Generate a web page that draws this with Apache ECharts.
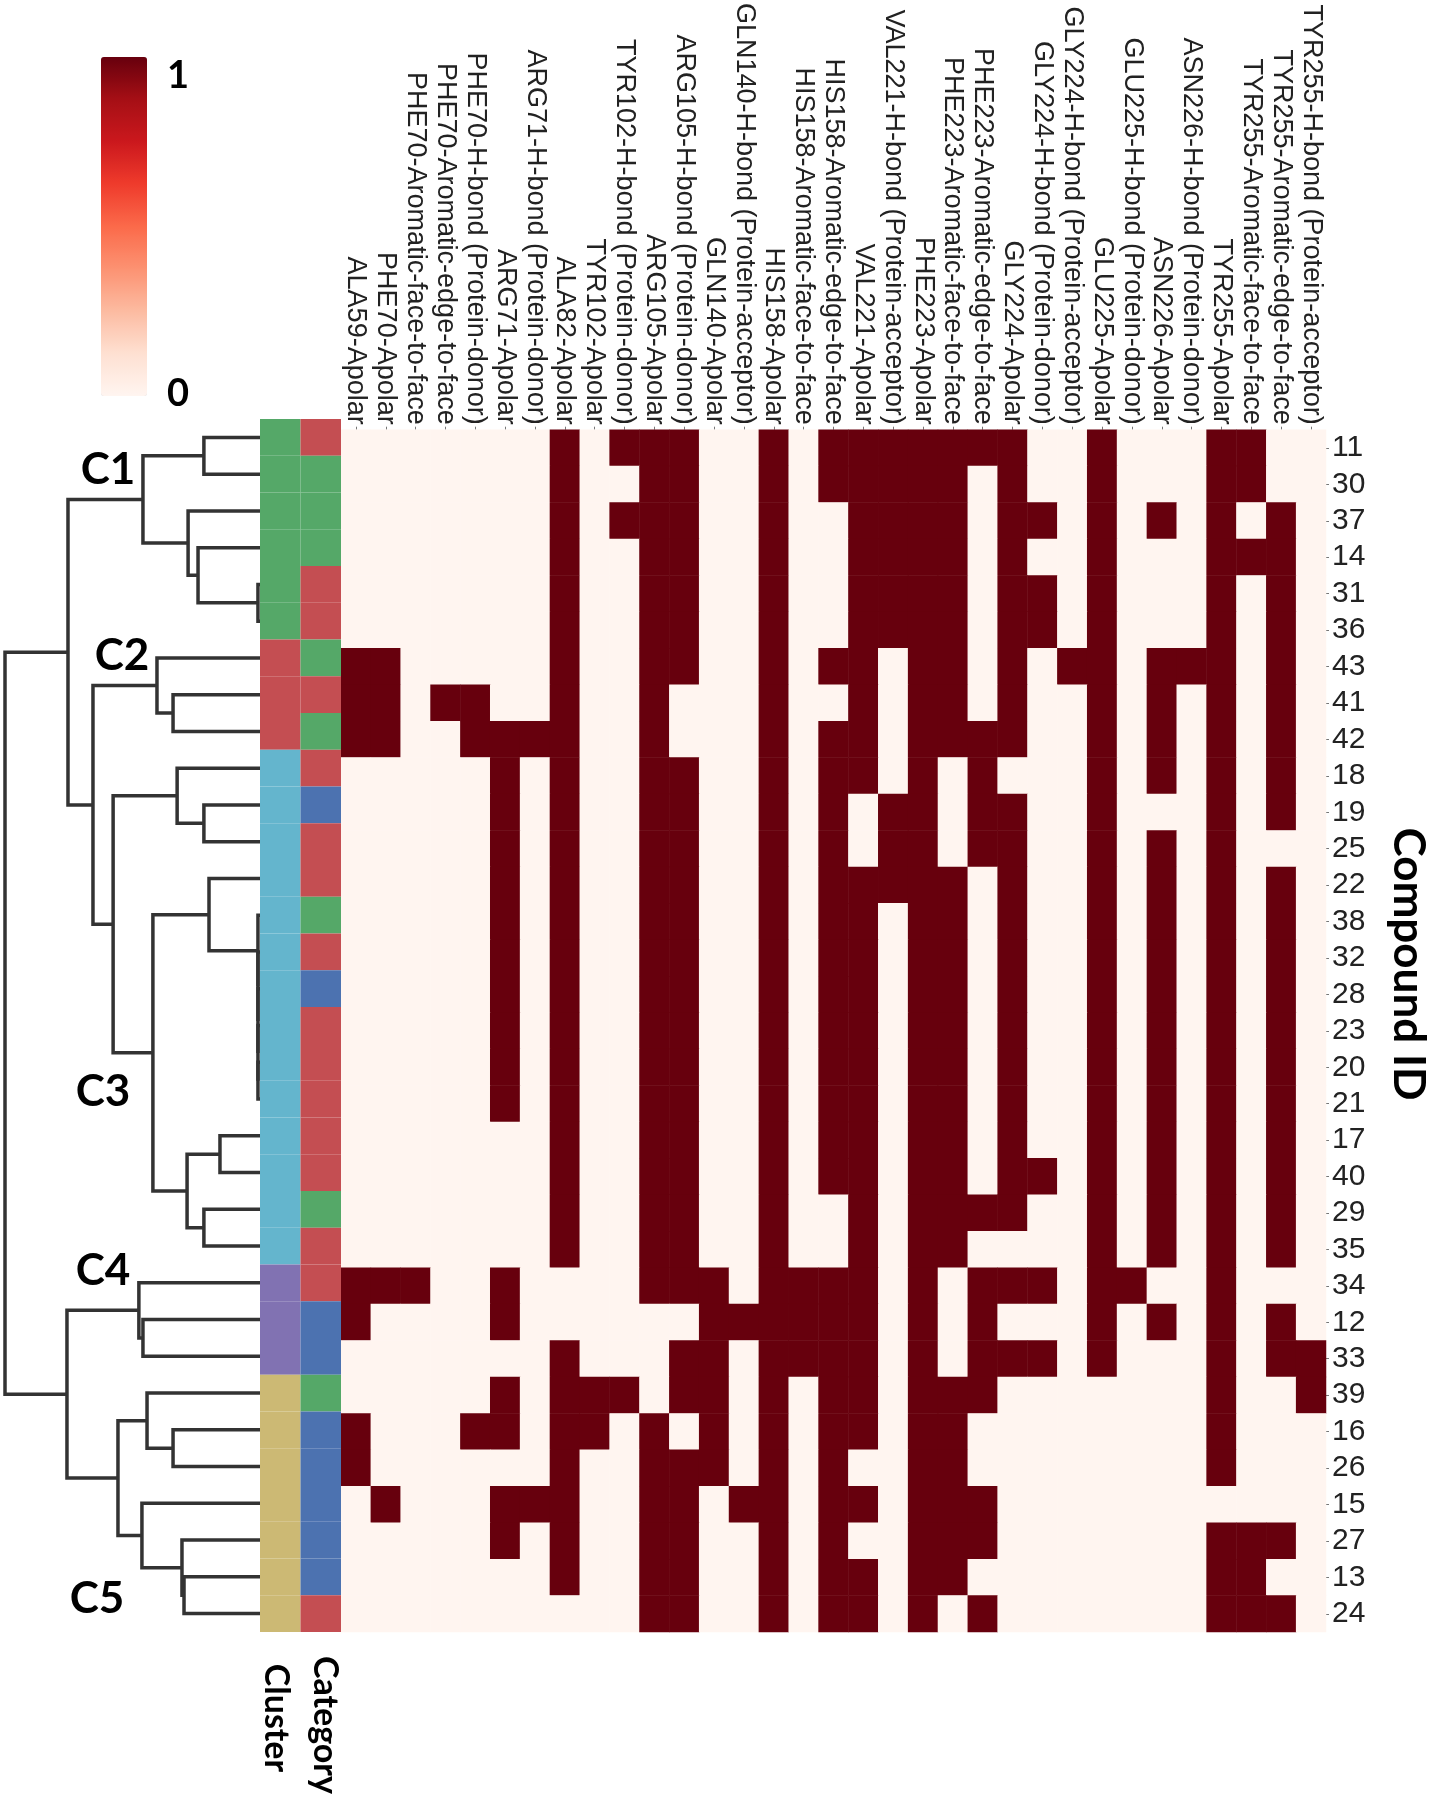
<!DOCTYPE html>
<html><head><meta charset="utf-8">
<script src="https://cdn.jsdelivr.net/npm/echarts@6/dist/echarts.min.js"></script>
<style>html,body{margin:0;padding:0;background:#fff}#c{width:1435px;height:1800px}</style>
</head><body><div id="c"></div>
<script>
// ---------- data ----------
const compoundIds = ['11','30','37','14','31','36','43','41','42','18','19','25','22','38','32','28','23','20','21','17','40','29','35','34','12','33','39','16','26','15','27','13','24'];

const interactions = ['ALA59-Apolar','PHE70-Apolar','PHE70-Aromatic-face-to-face','PHE70-Aromatic-edge-to-face','PHE70-H-bond (Protein-donor)','ARG71-Apolar','ARG71-H-bond (Protein-donor)','ALA82-Apolar','TYR102-Apolar','TYR102-H-bond (Protein-donor)','ARG105-Apolar','ARG105-H-bond (Protein-donor)','GLN140-Apolar','GLN140-H-bond (Protein-acceptor)','HIS158-Apolar','HIS158-Aromatic-face-to-face','HIS158-Aromatic-edge-to-face','VAL221-Apolar','VAL221-H-bond (Protein-acceptor)','PHE223-Apolar','PHE223-Aromatic-face-to-face','PHE223-Aromatic-edge-to-face','GLY224-Apolar','GLY224-H-bond (Protein-donor)','GLY224-H-bond (Protein-acceptor)','GLU225-Apolar','GLU225-H-bond (Protein-donor)','ASN226-Apolar','ASN226-H-bond (Protein-donor)','TYR255-Apolar','TYR255-Aromatic-face-to-face','TYR255-Aromatic-edge-to-face','TYR255-H-bond (Protein-acceptor)'];

// one string per compound (row order above), one character per interaction (1 = present)
const fingerprint = [
  '00000001011'+'10010111111'+'10010001100', // 11
  '00000001001'+'10010111110'+'10010001100', // 30
  '00000001011'+'10010011110'+'11010101010', // 37
  '00000001001'+'10010011110'+'10010001110', // 14
  '00000001001'+'10010011110'+'11010001010', // 31
  '00000001001'+'10010011110'+'11010001010', // 36
  '11000001001'+'10010110110'+'10110111010', // 43
  '11011001001'+'00010010110'+'10010101010', // 41
  '11001111001'+'00010110111'+'10010101010', // 42
  '00000101001'+'10010110101'+'00010101010', // 18
  '00000101001'+'10010101101'+'10010001010', // 19
  '00000101001'+'10010101101'+'10010101000', // 25
  '00000101001'+'10010111110'+'10010101010', // 22
  '00000101001'+'10010110110'+'10010101010', // 38
  '00000101001'+'10010110110'+'10010101010', // 32
  '00000101001'+'10010110110'+'10010101010', // 28
  '00000101001'+'10010110110'+'10010101010', // 23
  '00000101001'+'10010110110'+'10010101010', // 20
  '00000101001'+'10010110110'+'10010101010', // 21
  '00000001001'+'10010110110'+'10010101010', // 17
  '00000001001'+'10010110110'+'11010101010', // 40
  '00000001001'+'10010010111'+'10010101010', // 29
  '00000001001'+'10010010110'+'00010101010', // 35
  '11100100001'+'11011110101'+'11011001000', // 34
  '10000100000'+'01111110101'+'00010101010', // 12
  '00000001000'+'11011110101'+'11010001011', // 33
  '00000101110'+'11010110111'+'00000001001', // 39
  '10001101101'+'01010110110'+'00000001000', // 16
  '10000001001'+'11010100110'+'00000001000', // 26
  '01000111001'+'10110110111'+'00000000000', // 15
  '00000101001'+'10010100111'+'00000001110', // 27
  '00000001001'+'10010110110'+'00000001100', // 13
  '00000000001'+'10010110101'+'00000001110'  // 24
];

const clusterOfRow  = ['C1','C1','C1','C1','C1','C1','C2','C2','C2','C3','C3','C3','C3','C3','C3','C3','C3','C3','C3','C3','C3','C3','C3','C4','C4','C4','C5','C5','C5','C5','C5','C5','C5'];
const categoryOfRow = ['r','g','g','g','r','r','g','r','g','r','b','r','r','g','r','b','r','r','r','r','r','g','r','r','b','b','g','b','b','b','b','b','r'];

// hierarchical clustering merges: [childA, childB, distance]; leaves 0..32, merge k creates node 33+k
const linkage = [
  [4,5,0.08],[3,33,2.43],[2,34,2.82],[0,1,2.20],[36,35,4.59],
  [7,8,3.41],[6,38,4.04],
  [10,11,2.20],[9,40,3.25],
  [17,18,0.08],[16,42,0.08],[15,43,0.08],[14,44,0.08],[13,45,0.08],[12,46,2.00],
  [19,20,1.57],[21,22,2.20],[48,49,2.86],[47,50,4.20],[41,51,5.76],
  [39,52,6.55],[37,53,7.53],
  [24,25,4.59],[23,55,4.75],
  [27,28,3.41],[26,57,4.43],[31,32,2.98],[30,59,3.06],[29,60,4.63],[58,61,5.57],
  [56,62,7.57],[54,63,10.0]
];

const clusterLabels = ['C1','C2','C3','C4','C5'];
const colorbarTicks = ['1','0'];

// ---------- styles ----------
const clusterColors = {C1:'#55a868',C2:'#c44e52',C3:'#64b5cd',C4:'#8172b2',C5:'#ccb974'};
const categoryColors = {r:'#c44e52',g:'#55a868',b:'#4c72b0'};
const reds = ['#fff5f0','#fee0d2','#fcbba1','#fc9272','#fb6a4a','#ef3b2c','#cb181d','#a50f15','#67000d'];

// ---------- build ----------
const heatData = [];
fingerprint.forEach((s, r) => { for (let c = 0; c < s.length; c++) heatData.push([c, r, +s[c]]); });

const barData = [];
clusterOfRow.forEach((cl, r) => barData.push({value:[0, r], color: clusterColors[cl]}));
categoryOfRow.forEach((ct, r) => barData.push({value:[1, r], color: categoryColors[ct]}));

const n = compoundIds.length;
const nodeY = [], nodeH = [];
for (let i = 0; i < n; i++) { nodeY[i] = i; nodeH[i] = 0; }
const links = [];
linkage.forEach((m, k) => {
  const [a, b, h] = m;
  links.push([nodeH[a], nodeY[a], h, nodeY[b], nodeH[b]]);
  nodeY[n + k] = (nodeY[a] + nodeY[b]) / 2;
  nodeH[n + k] = h;
});

const TOP = 419, H = 1213;
const labelFont = 'Liberation Sans, Arial, sans-serif';
const boldFont = 'Lato, Noto Sans, sans-serif';

const chart = echarts.init(document.getElementById('c'), null, {renderer:'canvas'});
const annot = [
  {x:108, y:470}, {x:122, y:656}, {x:103, y:1092}, {x:103, y:1271}, {x:97, y:1599}
];
const graphic = annot.map((a, i) => ({type:'text', x:a.x, y:a.y, z:100,
  style:{text:clusterLabels[i], fontSize:44, fontWeight:'bold', fontFamily:boldFont, fill:'#000', align:'center', verticalAlign:'middle'}}));
graphic.push({type:'text', x:167, y:76, style:{text:colorbarTicks[0], fontSize:38, fontWeight:'bold', fontFamily:boldFont, fill:'#000', align:'left', verticalAlign:'middle'}});
graphic.push({type:'text', x:167, y:394, style:{text:colorbarTicks[1], fontSize:38, fontWeight:'bold', fontFamily:boldFont, fill:'#000', align:'left', verticalAlign:'middle'}});
graphic.push({type:'text', x:276, y:1718, rotation:-Math.PI/2, style:{text:'Cluster', fontSize:34, fontWeight:'bold', fontFamily:boldFont, fill:'#000', align:'center', verticalAlign:'middle'}});
graphic.push({type:'text', x:325, y:1725, rotation:-Math.PI/2, style:{text:'Category', fontSize:34, fontWeight:'bold', fontFamily:boldFont, fill:'#000', align:'center', verticalAlign:'middle'}});
graphic.push({type:'text', x:1408, y:964, rotation:-Math.PI/2, style:{text:'Compound ID', fontSize:44, fontWeight:'bold', fontFamily:boldFont, fill:'#000', align:'center', verticalAlign:'middle'}});

const tick = {show:true, length:3, alignWithLabel:true, lineStyle:{color:'#777', width:1}};

chart.setOption({
  animation:false,
  backgroundColor:'#fff',
  grid:[
    {left:341, top:TOP, width:985, height:H},
    {left:5, top:TOP, width:255, height:H},
    {left:260, top:TOP, width:81, height:H}
  ],
  xAxis:[
    {gridIndex:0, type:'category', data:interactions, position:'top',
     axisLine:{show:false}, axisTick:tick, splitLine:{show:false},
     axisLabel:{rotate:90, interval:0, fontSize:27, fontFamily:labelFont, color:'#222', margin:5}},
    {gridIndex:1, type:'value', min:0, max:10, inverse:true, show:false},
    {gridIndex:2, type:'category', data:['Cluster','Category'], show:false}
  ],
  yAxis:[
    {gridIndex:0, type:'category', data:compoundIds, inverse:true, position:'right',
     axisLine:{show:false}, axisTick:tick, splitLine:{show:false},
     axisLabel:{interval:0, fontSize:30, fontFamily:labelFont, color:'#222', margin:6}},
    {gridIndex:1, type:'value', min:-0.5, max:n-0.5, inverse:true, show:false},
    {gridIndex:2, type:'category', data:compoundIds, inverse:true, show:false}
  ],
  visualMap:{type:'continuous', min:0, max:1, seriesIndex:0, orient:'vertical', left:101, top:57,
    itemWidth:46, itemHeight:339, padding:0, calculable:false, hoverLink:false,
    inRange:{color:reds}},
  graphic: graphic,
  series:[
    {type:'heatmap', xAxisIndex:0, yAxisIndex:0, data:heatData, emphasis:{disabled:true}, itemStyle:{borderWidth:0}},
    {type:'custom', xAxisIndex:1, yAxisIndex:1, data:links, encode:{x:[0,2,4], y:[1,3]},
     renderItem:function(params, api){
       const p1 = api.coord([api.value(0), api.value(1)]);
       const p2 = api.coord([api.value(2), api.value(1)]);
       const p3 = api.coord([api.value(2), api.value(3)]);
       const p4 = api.coord([api.value(4), api.value(3)]);
       return {type:'polyline', shape:{points:[p1,p2,p3,p4]}, style:{stroke:'#333', lineWidth:3.5, fill:null, lineJoin:'miter'}};
     }},
    {type:'custom', xAxisIndex:2, yAxisIndex:2, data:barData,
     renderItem:function(params, api){
       const c = api.coord([api.value(0), api.value(1)]);
       const s = api.size([1, 1]);
       return {type:'rect', shape:{x:c[0]-s[0]/2, y:c[1]-s[1]/2, width:s[0], height:s[1]},
               style:{fill: barData[params.dataIndex].color}};
     }}
  ]
});
</script></body></html>
